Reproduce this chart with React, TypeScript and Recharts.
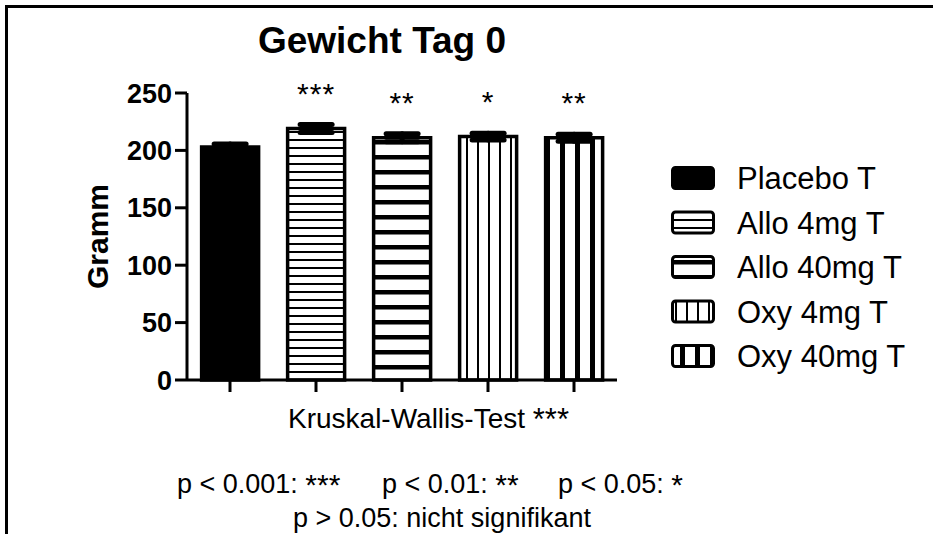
import { useEffect } from 'react';
import { Bar, BarChart, Cell, ErrorBar, LabelList, XAxis, YAxis } from 'recharts';

const groups = ['Placebo T', 'Allo 4mg T', 'Allo 40mg T', 'Oxy 4mg T', 'Oxy 40mg T'];
const weights = [203, 219, 211, 212, 211];
const sem = [2.5, 3.5, 3.5, 3, 3];
const stars = ['', '***', '**', '*', '**'];
const yTicks = [0, 50, 100, 150, 200, 250];

const font = "'Liberation Sans', Arial, sans-serif";
const fills = ['#000', 'url(#hThin)', 'url(#hThick)', 'url(#vThin)', 'url(#vThick)'];

const data = groups.map((name, i) => ({ name, weight: weights[i], err: sem[i], sig: stars[i] }));

// wider asterisks, as in the original export
const Stars = ({ s }: { s: string }) => (
  <tspan fontSize={30} dy={2}>
    {s}
  </tspan>
);

export default function App() {
  useEffect(() => {
    document.documentElement.style.overflow = 'hidden';
    document.body.style.overflow = 'hidden';
  }, []);

  return (
    <div style={{ position: 'fixed', left: 0, top: 0, width: 933, height: 534, overflow: 'hidden', background: '#fff', fontFamily: font }}>
      <BarChart
        width={933}
        height={534}
        data={data}
        margin={{ top: 93, right: 316, bottom: 124, left: 77 }}
        barCategoryGap="17%"
      >
        <defs>
          <pattern id="hThin" patternUnits="userSpaceOnUse" width="10" height="8">
            <rect width="10" height="8" fill="#fff" />
            <rect y="3" width="10" height="2" fill="#000" />
          </pattern>
          <pattern id="hThick" patternUnits="userSpaceOnUse" width="10" height="15">
            <rect width="10" height="15" fill="#fff" />
            <rect y="5" width="10" height="4.5" fill="#000" />
          </pattern>
          <pattern id="vThin" patternUnits="userSpaceOnUse" width="11" height="10">
            <rect width="11" height="10" fill="#fff" />
            <rect x="4" width="2" height="10" fill="#000" />
          </pattern>
          <pattern id="vThick" patternUnits="userSpaceOnUse" width="15" height="10">
            <rect width="15" height="10" fill="#fff" />
            <rect x="5" width="5" height="10" fill="#000" />
          </pattern>
        </defs>
        <XAxis
          dataKey="name"
          height={30}
          tickFormatter={() => ''}
          tickSize={12}
          axisLine={{ stroke: '#000', strokeWidth: 3 }}
          tickLine={{ stroke: '#000', strokeWidth: 3 }}
        />
        <YAxis
          width={110}
          domain={[0, 250]}
          ticks={yTicks}
          tickSize={12}
          tickMargin={3}
          axisLine={{ stroke: '#000', strokeWidth: 3 }}
          tickLine={{ stroke: '#000', strokeWidth: 3 }}
          tick={{ fill: '#000', fontSize: 27, fontWeight: 'bold', fontFamily: font }}
          label={{
            value: 'Gramm',
            angle: -90,
            position: 'insideLeft',
            offset: 20,
            style: { textAnchor: 'middle', fontSize: 30, fontWeight: 'bold', fill: '#000', fontFamily: font },
          }}
        />
        <Bar dataKey="weight" stroke="#000" strokeWidth={3.5} isAnimationActive={false}>
          {data.map((d, i) => (
            <Cell key={d.name} fill={fills[i]} />
          ))}
          <ErrorBar dataKey="err" width={16} stroke="#000" strokeWidth={5} strokeLinecap="round" />
          <LabelList
            dataKey="sig"
            position="top"
            offset={25}
            style={{ fontSize: 30, fill: '#000', fontFamily: font, letterSpacing: 1 }}
          />
        </Bar>
      </BarChart>

      <svg width={933} height={534} style={{ position: 'absolute', left: 0, top: 0, pointerEvents: 'none' }}>
        <line x1={5} y1={6.5} x2={933} y2={6.5} stroke="#000" strokeWidth={3} />
        <line x1={6.5} y1={5} x2={6.5} y2={534} stroke="#000" strokeWidth={3} />
        <text x={382} y={53} textAnchor="middle" fontSize={37} fontWeight="bold" fontFamily={font}>
          Gewicht Tag 0
        </text>
        {groups.map((g, i) => (
          <g key={g}>
            <rect x={672.5} y={167.5 + i * 44.5} width={41} height={21} rx={3} fill={fills[i]} stroke="#000" strokeWidth={3} />
            <text x={737} y={189 + i * 44.5} fontSize={31} fontFamily={font}>
              {g}
            </text>
          </g>
        ))}
        <text x={288} y={428} fontSize={28} fontFamily={font}>
          Kruskal-Wallis-Test <tspan fontSize={31} dy={2}>***</tspan>
        </text>
        <text x={177} y={493} fontSize={27} fontFamily={font}>
          p &lt; 0.001: <Stars s="***" />
        </text>
        <text x={382} y={493} fontSize={27} fontFamily={font}>
          p &lt; 0.01: <Stars s="**" />
        </text>
        <text x={558} y={493} fontSize={27} fontFamily={font}>
          p &lt; 0.05: <Stars s="*" />
        </text>
        <text x={293} y={527} fontSize={27} fontFamily={font}>
          p &gt; 0.05: nicht signifikant
        </text>
      </svg>
    </div>
  );
}
